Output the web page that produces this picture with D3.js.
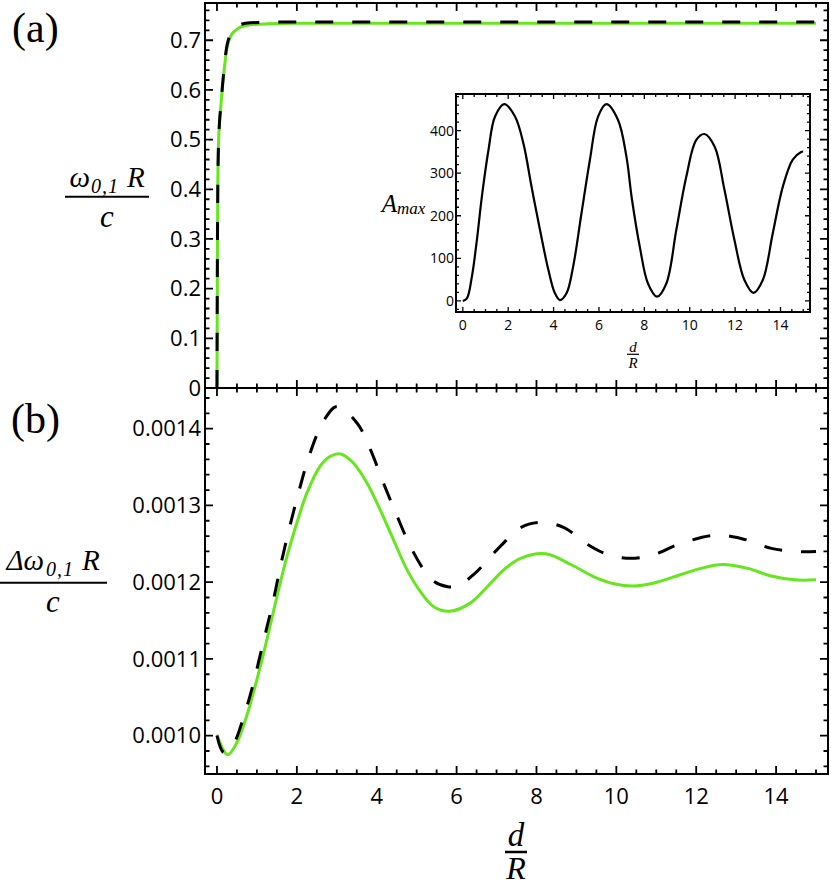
<!DOCTYPE html>
<html>
<head>
<meta charset="utf-8">
<script src="https://cdn.jsdelivr.net/npm/d3@7"></script>
<style>
  body { margin: 0; background: #fff; }
  .math { font-family: "Liberation Serif", "DejaVu Serif", serif; font-style: italic; fill: #000; }
  .panel-tag { font-family: "Liberation Serif", "DejaVu Serif", serif; fill: #000; }
  .tick-label { font-family: "Open Sans", sans-serif; fill: #000; }
</style>
</head>
<body>
<svg id="chart" width="831" height="886"></svg>
<script>
// tick values and labels
const D_TICKS = [0, 2, 4, 6, 8, 10, 12, 14];
const D_TICK_LABELS = ["0", "2", "4", "6", "8", "10", "12", "14"];
const OMEGA_TICKS = [0, 0.1, 0.2, 0.3, 0.4, 0.5, 0.6, 0.7];
const OMEGA_TICK_LABELS = ["0", "0.1", "0.2", "0.3", "0.4", "0.5", "0.6", "0.7"];
const DELTA_TICKS = [0.001, 0.0011, 0.0012, 0.0013, 0.0014];
const DELTA_TICK_LABELS = ["0.0010", "0.0011", "0.0012", "0.0013", "0.0014"];
const AMAX_TICKS = [0, 100, 200, 300, 400];
const AMAX_TICK_LABELS = ["0", "100", "200", "300", "400"];

// (a) omega_{0,1} R / c against d/R
const omegaD = [0, 0.01, 0.02, 0.035, 0.06, 0.1, 0.14, 0.18, 0.24, 0.3, 0.37, 0.5, 0.6, 0.83, 1.25, 2, 15];
const omegaGreen = [0, 0.25, 0.4, 0.48, 0.53, 0.57, 0.61, 0.64, 0.68, 0.7, 0.712, 0.722, 0.727, 0.731, 0.733, 0.734, 0.734];
const omegaDashed = [0, 0.25, 0.4, 0.48, 0.53, 0.57, 0.61, 0.645, 0.685, 0.705, 0.717, 0.728, 0.732, 0.735, 0.736, 0.737, 0.737];

// (a) inset: A_max against d/R
const ampD = [0, 0.18, 0.4, 0.62, 0.84, 1.13, 1.42, 1.83, 2.3, 2.67, 3.03, 3.4, 3.77, 4.06, 4.28,
  4.57, 4.86, 5.23, 5.6, 5.96, 6.33, 6.84, 7.21, 7.45, 7.8, 8.16, 8.56, 8.97, 9.41, 9.85, 10.29,
  10.65, 11.1, 11.53, 11.97, 12.41, 12.81, 13.22, 13.66, 14.1, 14.54, 14.91, 15];
const ampValues = [0, 6, 57, 143, 245, 354, 433, 462, 433, 370, 268, 167, 73, 18, 2,
  18, 80, 206, 331, 433, 462, 425, 339, 240, 127, 41, 10, 41, 167, 292, 378,
  392, 362, 261, 143, 49, 19, 49, 159, 268, 332, 350, 351];

// (b) delta omega_{0,1} R / c against d/R
const deltaGreenD = [0, 0.26, 0.49, 0.74, 1, 1.25, 1.5, 1.75, 2, 2.25, 2.58, 2.84, 3.1, 3.42, 3.76,
  4.09, 4.42, 4.76, 5.09, 5.43, 5.82, 6.35, 6.77, 7.18, 7.6, 8.23, 8.86, 9.44, 9.94, 10.41,
  10.95, 11.62, 12.12, 12.66, 13.29, 13.88, 14.46, 15];
const deltaGreen = [10.01e-4, 9.75e-4, 9.9e-4, 10.25e-4, 10.73e-4, 11.25e-4, 11.81e-4, 12.33e-4,
  12.77e-4, 13.16e-4, 13.51e-4, 13.64e-4, 13.67e-4, 13.55e-4, 13.29e-4, 12.94e-4, 12.55e-4,
  12.16e-4, 11.88e-4, 11.68e-4, 11.62e-4, 11.73e-4, 11.94e-4, 12.16e-4, 12.31e-4, 12.37e-4,
  12.23e-4, 12.07e-4, 11.98e-4, 11.95e-4, 11.99e-4, 12.1e-4, 12.18e-4, 12.23e-4, 12.18e-4,
  12.08e-4, 12.03e-4, 12.03e-4];
const deltaDashedD = [0, 0.17, 0.4, 0.66, 0.91, 1.16, 1.41, 1.62, 1.83, 2.08, 2.33, 2.67, 3, 3.51,
  3.84, 4.17, 4.51, 4.84, 5.18, 5.43, 5.78, 6.02, 6.43, 7.1, 7.6, 8.1, 8.69, 9.28, 9.78, 10.36,
  10.95, 11.54, 12.45, 13.12, 13.88, 14.46, 15];
const deltaDashed = [10e-4, 9.78e-4, 9.88e-4, 10.23e-4, 10.68e-4, 11.22e-4, 11.76e-4, 12.28e-4,
  12.74e-4, 13.24e-4, 13.68e-4, 14.1e-4, 14.29e-4, 14.07e-4, 13.73e-4, 13.29e-4, 12.86e-4,
  12.47e-4, 12.16e-4, 12.01e-4, 11.94e-4, 11.95e-4, 12.1e-4, 12.47e-4, 12.71e-4, 12.78e-4,
  12.71e-4, 12.49e-4, 12.36e-4, 12.31e-4, 12.36e-4, 12.49e-4, 12.61e-4, 12.57e-4, 12.44e-4,
  12.4e-4, 12.4e-4];

const GREEN = "#66e61c";
const DASH = "18,19";

const svg = d3.select("#chart");

// layout of the two stacked panels and the inset
const frameA = { left: 205, right: 828, top: 3, bottom: 388 };
const frameB = { left: 205, right: 828, top: 388, bottom: 774 };
const frameInset = { left: 456, right: 810, top: 94, bottom: 312 };

const xA = d3.scaleLinear().domain([-0.3, 15.3]).range([frameA.left, frameA.right]);
const yA = d3.scaleLinear().domain([0, 0.775]).range([frameA.bottom, frameA.top]);
const yB = d3.scaleLinear().domain([0.00095, 0.001453]).range([frameB.bottom, frameB.top]);
const xIn = d3.scaleLinear().domain([-0.3, 15.3]).range([frameInset.left, frameInset.right]);
const yIn = d3.scaleLinear().domain([-26, 486]).range([frameInset.bottom, frameInset.top]);

// inward tick marks along one side of a frame, as one path
function tickPath(side, scale, frame, values, size) {
  const base = frame[side];
  const dir = side === "bottom" || side === "right" ? -1 : 1;
  const horizontal = side === "bottom" || side === "top";
  return values
    .map((d) => {
      const p = scale(d);
      return horizontal
        ? `M${p},${base}V${base + dir * size}`
        : `M${base},${p}H${base + dir * size}`;
    })
    .join("");
}

// Mathematica-style frame: ticks on all four sides, labels left and bottom
function drawFrame(frame, xScale, yScale, t) {
  let d = "";
  ["bottom", "top"].forEach((side) => {
    d += tickPath(side, xScale, frame, t.xMinor, t.minorSize);
    d += tickPath(side, xScale, frame, t.xMajor, t.majorSize);
  });
  ["left", "right"].forEach((side) => {
    d += tickPath(side, yScale, frame, t.yMinor, t.minorSize);
    d += tickPath(side, yScale, frame, t.yMajor, t.majorSize);
  });

  svg
    .append("rect")
    .attr("x", frame.left)
    .attr("y", frame.top)
    .attr("width", frame.right - frame.left)
    .attr("height", frame.bottom - frame.top)
    .attr("fill", "none")
    .attr("stroke", "#000")
    .attr("stroke-width", t.frameWidth);

  svg
    .append("path")
    .attr("class", "frame-ticks")
    .attr("d", d)
    .attr("fill", "none")
    .attr("stroke", "#000")
    .attr("stroke-width", t.tickWidth);

  if (t.xLabels) {
    svg
      .append("g")
      .selectAll("text")
      .data(t.xMajor)
      .join("text")
      .attr("class", "tick-label")
      .attr("font-size", t.fontSize)
      .attr("text-anchor", "middle")
      .attr("x", (v) => xScale(v))
      .attr("y", frame.bottom + t.xPadding)
      .attr("dy", "0.71em")
      .text((v, i) => t.xLabels[i]);
  }
  svg
    .append("g")
    .selectAll("text")
    .data(t.yMajor)
    .join("text")
    .attr("class", "tick-label")
    .attr("font-size", t.fontSize)
    .attr("text-anchor", "end")
    .attr("x", frame.left - t.yPadding)
    .attr("y", (v) => yScale(v))
    .attr("dy", "0.35em")
    .text((v, i) => t.yLabels[i]);
}

function minorTicks(lo, hi, step, major) {
  return d3.range(lo, hi + step / 2, step).filter((v) => !major.some((m) => Math.abs(m - v) < step / 10));
}

function drawCurve(xs, ys, xScale, yScale, color, width, dash, curve) {
  const pts = xs.map((d, i) => [d, ys[i]]);
  svg
    .append("path")
    .datum(pts)
    .attr("fill", "none")
    .attr("stroke", color)
    .attr("stroke-width", width)
    .attr("stroke-dasharray", dash)
    .attr(
      "d",
      d3
        .line()
        .x((p) => xScale(p[0]))
        .y((p) => yScale(p[1]))
        .curve(curve || d3.curveCatmullRom.alpha(0.5))
    );
}

const mainTicks = { majorSize: 8, minorSize: 4.5, fontSize: 22, tickWidth: 1.8, frameWidth: 2 };
const dMinor = minorTicks(0, 15, 0.5, D_TICKS);

// panel (a)
drawCurve(omegaD, omegaGreen, xA, yA, GREEN, 3, null, d3.curveMonotoneX);
drawCurve(omegaD, omegaDashed, xA, yA, "#000", 3, DASH, d3.curveMonotoneX);
drawFrame(frameA, xA, yA, {
  ...mainTicks,
  xMajor: D_TICKS, xMinor: dMinor, xLabels: null, xPadding: 14,
  yMajor: OMEGA_TICKS, yMinor: minorTicks(0, 0.77, 0.02, OMEGA_TICKS), yLabels: OMEGA_TICK_LABELS, yPadding: 4,
});

// panel (b)
drawCurve(deltaGreenD, deltaGreen, xA, yB, GREEN, 3, null);
drawCurve(deltaDashedD, deltaDashed, xA, yB, "#000", 3, DASH);
drawFrame(frameB, xA, yB, {
  ...mainTicks,
  xMajor: D_TICKS, xMinor: dMinor, xLabels: D_TICK_LABELS, xPadding: 14,
  yMajor: DELTA_TICKS, yMinor: minorTicks(0.00096, 0.00145, 0.00002, DELTA_TICKS), yLabels: DELTA_TICK_LABELS, yPadding: 4,
});

// inset
svg
  .append("rect")
  .attr("x", frameInset.left)
  .attr("y", frameInset.top)
  .attr("width", frameInset.right - frameInset.left)
  .attr("height", frameInset.bottom - frameInset.top)
  .attr("fill", "#fff");
drawCurve(ampD, ampValues, xIn, yIn, "#000", 2.2, null);
drawFrame(frameInset, xIn, yIn, {
  majorSize: 5, minorSize: 3, fontSize: 14, tickWidth: 1.3, frameWidth: 2,
  xMajor: D_TICKS, xMinor: dMinor, xLabels: D_TICK_LABELS, xPadding: 8,
  yMajor: AMAX_TICKS, yMinor: minorTicks(-20, 480, 20, AMAX_TICKS), yLabels: AMAX_TICK_LABELS, yPadding: 2,
});

// fraction label: numerator built by caller, bar, denominator
function fraction(cx, barY, barX0, barX1, barWidth, buildNum, denom, denomSize, denomY) {
  const num = svg.append("text").attr("class", "math").attr("text-anchor", "middle").attr("x", cx);
  buildNum(num);
  svg
    .append("line")
    .attr("x1", barX0)
    .attr("x2", barX1)
    .attr("y1", barY)
    .attr("y2", barY)
    .attr("stroke", "#000")
    .attr("stroke-width", barWidth);
  svg
    .append("text")
    .attr("class", "math")
    .attr("text-anchor", "middle")
    .attr("x", cx)
    .attr("y", denomY)
    .attr("font-size", denomSize)
    .text(denom);
}

// y label (a)
fraction(107, 196.7, 65, 149, 2, (t) => {
  t.attr("y", 187).attr("font-size", 29);
  t.append("tspan").text("ω");
  t.append("tspan").attr("font-size", 20).attr("dy", 6).attr("dx", 1).attr("letter-spacing", 1).text("0,1");
  t.append("tspan").attr("dy", -6).attr("dx", 8).text("R");
}, "c", 31, 227);

// y label (b)
fraction(53, 582.7, 0, 107, 2, (t) => {
  t.attr("y", 570).attr("font-size", 29);
  t.append("tspan").text("Δω");
  t.append("tspan").attr("font-size", 20).attr("dy", 6).attr("dx", 2).attr("letter-spacing", 1).text("0,1");
  t.append("tspan").attr("dy", -6).attr("dx", 8).text("R");
}, "c", 31, 612);

// x label (b)
fraction(516, 852, 505, 527, 2.5, (t) => {
  t.attr("y", 846).attr("font-size", 33).text("d");
}, "R", 32, 879);

// inset labels
fraction(633, 354.3, 627, 639, 1.2, (t) => {
  t.attr("y", 351.5).attr("font-size", 15).text("d");
}, "R", 15, 368);

const amax = svg.append("text").attr("class", "math").attr("x", 381.7).attr("y", 211.7).attr("font-size", 25);
amax.append("tspan").text("A");
amax.append("tspan").attr("font-size", 17).attr("dy", 2).text("max");

// panel tags
svg.append("text").attr("class", "panel-tag").attr("x", 12).attr("y", 42).attr("font-size", 42).text("(a)");
svg.append("text").attr("class", "panel-tag").attr("x", 11).attr("y", 433).attr("font-size", 42).text("(b)");
</script>
</body>
</html>
